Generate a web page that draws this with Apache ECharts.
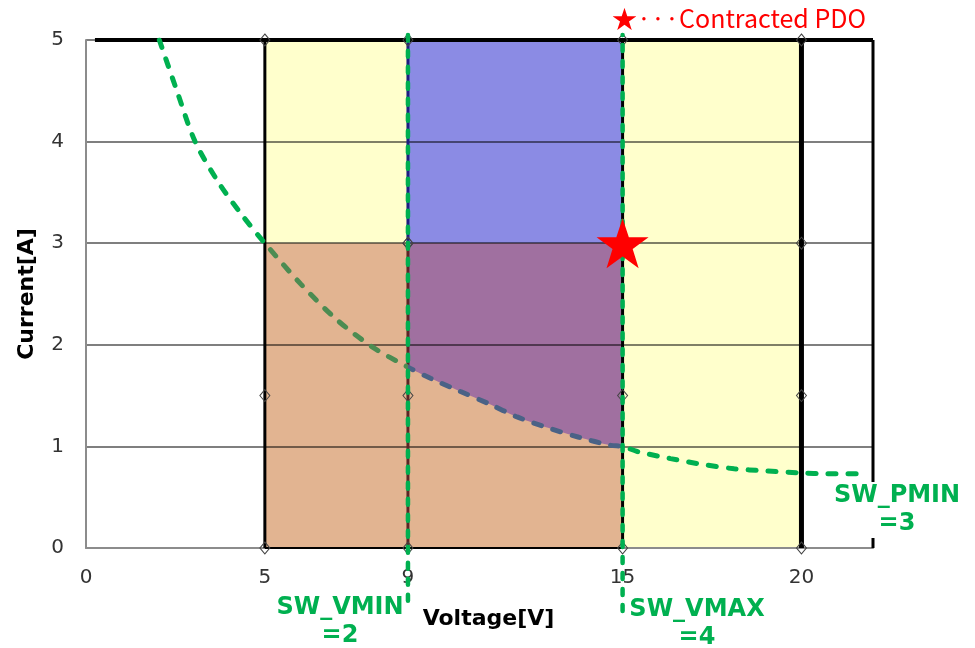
<!DOCTYPE html>
<html>
<head>
<meta charset="utf-8">
<script src="https://cdn.jsdelivr.net/npm/echarts@6/dist/echarts.min.js"></script>
<style>
  html, body { margin: 0; padding: 0; background: #fff; }
  #chart { width: 975px; height: 648px; }
</style>
</head>
<body>
<div id="chart"></div>
<script>
  // values
  const xTickLabels = [0, 5, 9, 15, 20];
  const pminCurve = [
    [2.05, 5], [2.54, 4.5], [3.05, 4], [3.7, 3.6], [4.31, 3.3], [5, 3], [6, 2.6], [7, 2.25], [8, 1.98],
    [9, 1.78], [9.63, 1.67], [10.47, 1.54], [11.26, 1.42], [12.05, 1.29], [12.94, 1.18],
    [13.78, 1.09], [14.67, 1.01], [15, 1.0], [15.41, 0.95], [16.34, 0.88], [17.28, 0.82],
    [18.12, 0.78], [18.96, 0.76], [19.94, 0.74], [20.73, 0.73], [21.66, 0.73]
  ];
  const yellowZone = [[5, 5], [20, 5]];
  const blueZone = [[9, 5], [15, 5]];
  const tanZone = [[5, 3], [15, 3]];
  const purpleZone = [[9, 3], [15, 3]];
  const frameTop = [[0.25, 5], [22, 5]];
  const frameRight = [[22, 5], [22, 0]];
  const bottomEdge = [[5, 0], [15, 0]];
  const v5 = [[5, 0], [5, 1.5], [5, 5]];
  const v9low = [[9, 0], [9, 1.5], [9, 3]];
  const v9high = [[9, 3], [9, 5]];
  const v15 = [[15, 0], [15, 1.5], [15, 5]];
  const v20 = [[20, 0], [20, 1.5], [20, 3], [20, 5]];
  const vminLine = [[9, -0.52], [9, 5.05]];
  const vmaxLine = [[15, -0.62], [15, 5.05]];
  const contractedPdo = [[15, 3]];

  const GREEN = '#00B050';
  const STAR = 'path://M50,0 L61.8,35.4 L99,35.4 L69,57.3 L80.3,92.7 L50,70.8 L19.7,92.7 L31,57.3 L1,35.4 L38.2,35.4 Z';

  function zone(data, color) {
    return {
      type: 'line', data: data, z: 2, silent: true, showSymbol: false,
      lineStyle: { width: 0 }, areaStyle: { color: color, opacity: 1 }
    };
  }
  function edge(data, color, width, marks) {
    return {
      type: 'line', data: data, z: 4, silent: true,
      showSymbol: !!marks, symbol: 'diamond', symbolSize: [10, 12],
      itemStyle: { color: 'rgba(255,255,255,0)', borderColor: '#444', borderWidth: 1 },
      lineStyle: { color: color, width: width }
    };
  }
  function dashedV(data) {
    return {
      type: 'line', data: data, z: 6, silent: true, showSymbol: false, clip: false,
      lineStyle: { color: GREEN, width: 4.5, type: [6, 10], cap: 'round' }
    };
  }

  const tanUnderCurve = pminCurve.filter(p => p[0] >= 9 && p[0] <= 15);

  let myChart = echarts.init(document.getElementById('chart'));
  let option = {
    animation: false,
    grid: { left: 86, right: 102, top: 40, bottom: 100 },
    xAxis: {
      type: 'value', min: 0, max: 22, interval: 1, z: 3,
      name: 'Voltage[V]', nameLocation: 'middle', nameGap: 60,
      nameTextStyle: { fontFamily: 'DejaVu Sans', fontWeight: 'bold', fontSize: 22, color: '#000', padding: [0, 0, 0, 18] },
      axisLine: { show: true, lineStyle: { color: '#8c8c8c', width: 2 } },
      axisTick: { show: false },
      splitLine: { show: false },
      axisLabel: {
        margin: 20, fontFamily: 'DejaVu Sans', fontSize: 20, color: '#333',
        formatter: v => xTickLabels.includes(v) ? String(v) : ''
      }
    },
    yAxis: {
      type: 'value', min: 0, max: 5, interval: 1, z: 3,
      name: 'Current[A]', nameLocation: 'middle', nameGap: 48,
      nameTextStyle: { fontFamily: 'DejaVu Sans', fontWeight: 'bold', fontSize: 22, color: '#000' },
      axisLine: { show: true, lineStyle: { color: '#8c8c8c', width: 2 } },
      axisTick: { show: false },
      splitLine: { show: true, lineStyle: { color: 'rgba(0,0,0,0.5)', width: 2 } },
      axisLabel: { margin: 22, fontFamily: 'DejaVu Sans', fontSize: 20, color: '#333' }
    },
    visualMap: {
      show: false, type: 'piecewise', dimension: 0, seriesIndex: 5,
      pieces: [
        { lt: 5, color: GREEN },
        { gte: 5, lt: 9, color: '#4C8C52' },
        { gte: 9, lt: 15, color: '#4A6286' },
        { gte: 15, color: GREEN }
      ]
    },
    series: [
      zone(yellowZone, '#FFFFCC'),
      zone(blueZone, '#8B8BE4'),
      zone(tanZone, '#E2B491'),
      zone(purpleZone, '#A070A0'),
      Object.assign(zone(tanUnderCurve, '#E2B491'), { smooth: 0.3 }),
      {
        type: 'line', data: pminCurve, z: 6, silent: true, showSymbol: false, smooth: 0.3,
        lineStyle: { width: 5, type: [8, 12], cap: 'round' }
      },
      edge(frameTop, '#000', 4),
      edge(frameRight, '#000', 3),
      edge(bottomEdge, '#000', 2),
      edge(v5, '#000', 3, true),
      edge(v9low, '#5A2626', 3, true),
      edge(v9high, '#1E1E80', 3, true),
      edge(v15, '#000', 3, true),
      edge(v20, '#000', 5, true),
      dashedV(vminLine),
      dashedV(vmaxLine),
      {
        type: 'scatter', data: contractedPdo, z: 8, silent: true,
        symbol: STAR, symbolSize: [52, 50], itemStyle: { color: '#FF0000', opacity: 1 }
      }
    ],
    graphic: [
      {
        type: 'text', x: 612, y: 6, z: 10,
        style: { text: '★···Contracted PDO', fill: '#FF0000', font: '25px "Noto Sans CJK JP", "Noto Sans"' }
      },
      {
        type: 'text', x: 340, y: 594, z: 10,
        style: { text: 'SW_VMIN\n=2', fill: GREEN, align: 'center', lineHeight: 28, font: 'bold 24px "DejaVu Sans"' }
      },
      {
        type: 'text', x: 697, y: 596, z: 10,
        style: { text: 'SW_VMAX\n=4', fill: GREEN, align: 'center', lineHeight: 28, font: 'bold 24px "DejaVu Sans"' }
      },
      {
        type: 'text', x: 897, y: 482, z: 10,
        style: {
          text: 'SW_PMIN\n=3', fill: GREEN, align: 'center', lineHeight: 28, font: 'bold 24px "DejaVu Sans"',
          backgroundColor: '#fff', padding: [0, 2, 0, 2]
        }
      }
    ]
  };
  option && myChart.setOption(option);
</script>
</body>
</html>
